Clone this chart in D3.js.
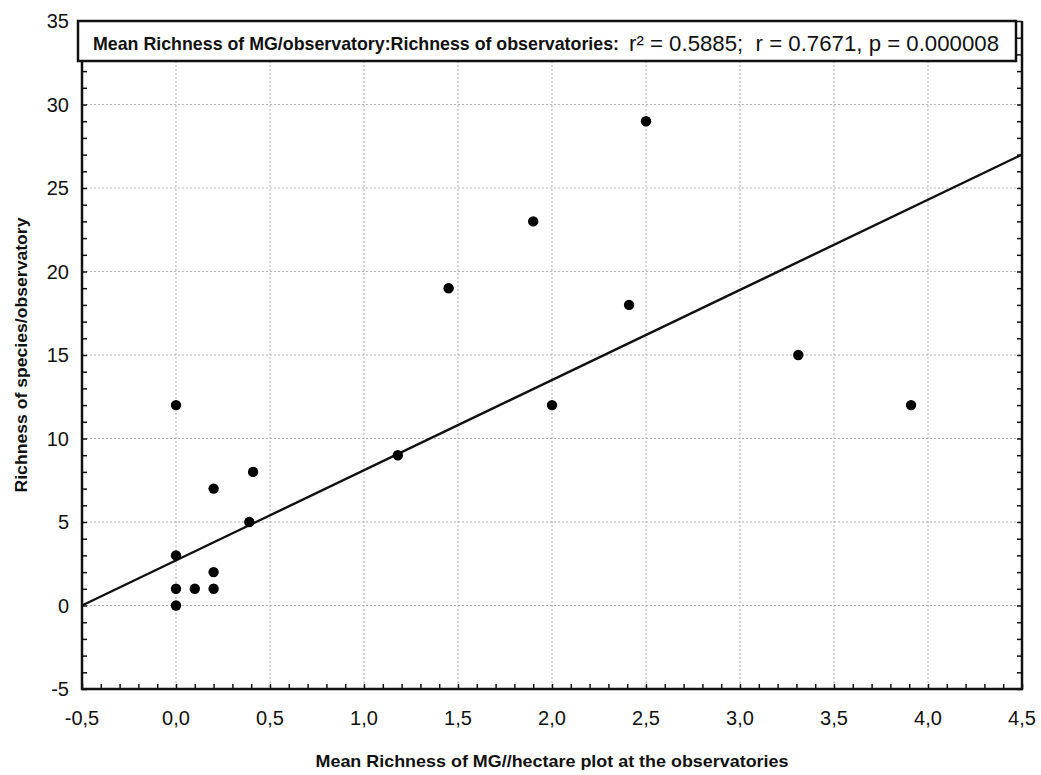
<!DOCTYPE html>
<html>
<head>
<meta charset="utf-8">
<script src="https://cdn.jsdelivr.net/npm/d3@7"></script>
<style>
  body { margin: 0; background: #fff; }
  .tick-label { font-family: "Liberation Sans", Arial, sans-serif; font-size: 20px; fill: #111; }
  .bold-label { font-family: "Liberation Sans Narrow", "Liberation Sans", Arial, sans-serif; font-weight: bold; fill: #111; }
  .grid line { stroke: #b0b0b0; stroke-width: 1; stroke-dasharray: 2,2; }
</style>
</head>
<body>
<div id="chart"></div>
<script>
// observatories: mean richness of MG per hectare plot vs species richness
var meanRichnessMG = [0, 0, 0, 0, 0.1, 0.2, 0.2, 0.2, 0.39, 0.41, 1.18, 1.45, 1.9, 2.0, 2.41, 2.5, 3.31, 3.91];
var speciesRichness = [12, 3, 1, 0, 1, 1, 2, 7, 5, 8, 9, 19, 23, 12, 18, 29, 15, 12];

// fitted line
var fitIntercept = 2.7;
var fitSlope = 5.4;

var xTicks = [-0.5, 0, 0.5, 1, 1.5, 2, 2.5, 3, 3.5, 4, 4.5];
var yTicks = [-5, 0, 5, 10, 15, 20, 25, 30, 35];

var titleBold = "Mean Richness of MG/observatory:Richness of observatories:";
var titleStats = "r\u00B2 = 0.5885;  r = 0.7671, p = 0.000008";
var xTitle = "Mean Richness of MG//hectare plot at the observatories";
var yTitle = "Richness of species/observatory";

var W = 1041, H = 775;
var margin = {top: 21, right: 19, bottom: 86, left: 82},
    width = W - margin.left - margin.right,
    height = H - margin.top - margin.bottom;

var x = d3.scaleLinear().domain([-0.5, 4.5]).range([0, width]);
var y = d3.scaleLinear().domain([-5, 35]).range([height, 0]);

var fmt = function(d) { return d3.format(".1f")(d).replace(".", ",").replace("\u2212", "-"); };

var svg = d3.select("#chart").append("svg")
    .attr("width", W)
    .attr("height", H);

var g = svg.append("g")
    .attr("transform", "translate(" + margin.left + "," + margin.top + ")");

// grid
var grid = g.append("g").attr("class", "grid");
grid.selectAll(".gx")
    .data(xTicks.slice(1, -1))
    .enter().append("line")
    .attr("x1", function(d) { return x(d); })
    .attr("x2", function(d) { return x(d); })
    .attr("y1", 0)
    .attr("y2", height);
grid.selectAll(".gy")
    .data(yTicks.slice(1, -1))
    .enter().append("line")
    .attr("x1", 0)
    .attr("x2", width)
    .attr("y1", function(d) { return y(d); })
    .attr("y2", function(d) { return y(d); });

// minor + major ticks pointing inward
var xMinor = d3.range(-5, 46).map(function(i) { return i / 10; });
var yMinor = d3.range(-5, 36);

function styleTicks(s) {
    s.select(".domain").remove();
    s.selectAll("line").attr("stroke", "#111").attr("stroke-width", 1.5);
}

g.append("g")
    .attr("transform", "translate(0," + height + ")")
    .call(d3.axisTop(x).tickValues(xMinor).tickSize(5).tickFormat(""))
    .call(styleTicks);

g.append("g")
    .call(d3.axisRight(y).tickValues(yMinor).tickSize(5).tickFormat(""))
    .call(styleTicks);

g.append("g")
    .attr("transform", "translate(" + width + ",0)")
    .call(d3.axisLeft(y).tickValues(yMinor).tickSize(5).tickFormat(""))
    .call(styleTicks);

// tick labels
g.selectAll(".xlab")
    .data(xTicks)
    .enter().append("text")
    .attr("class", "tick-label")
    .attr("x", function(d) { return x(d); })
    .attr("y", height + 36)
    .attr("text-anchor", "middle")
    .text(fmt);

g.selectAll(".ylab")
    .data(yTicks)
    .enter().append("text")
    .attr("class", "tick-label")
    .attr("x", -13)
    .attr("y", function(d) { return y(d); })
    .attr("dy", "0.36em")
    .attr("text-anchor", "end")
    .text(function(d) { return d; });

// frame
g.append("path")
    .attr("d", "M0,0V" + height + "H" + width + "V0")
    .attr("fill", "none")
    .attr("stroke", "#111")
    .attr("stroke-width", 2.5);

// regression line
g.append("line")
    .attr("x1", x(-0.5))
    .attr("y1", y(fitIntercept + fitSlope * -0.5))
    .attr("x2", x(4.5))
    .attr("y2", y(fitIntercept + fitSlope * 4.5))
    .attr("stroke", "#111")
    .attr("stroke-width", 2.4);

// points
var pts = meanRichnessMG.map(function(v, i) { return {mx: v, sr: speciesRichness[i]}; });
g.selectAll(".dot")
    .data(pts)
    .enter().append("circle")
    .attr("class", "dot")
    .attr("r", 5.2)
    .attr("cx", function(d) { return x(d.mx); })
    .attr("cy", function(d) { return y(d.sr); })
    .style("fill", "#000");

// title box
svg.append("rect")
    .attr("x", 78)
    .attr("y", 21)
    .attr("width", 938)
    .attr("height", 40)
    .attr("fill", "#fff")
    .attr("stroke", "#111")
    .attr("stroke-width", 2.5);

svg.append("text")
    .attr("class", "bold-label")
    .attr("x", 93)
    .attr("y", 50)
    .attr("font-size", 19)
    .attr("textLength", 526)
    .attr("lengthAdjust", "spacingAndGlyphs")
    .text(titleBold);

svg.append("text")
    .attr("class", "tick-label")
    .attr("x", 629)
    .attr("y", 51)
    .style("font-size", "22px")
    .style("white-space", "pre")
    .attr("textLength", 370)
    .attr("lengthAdjust", "spacingAndGlyphs")
    .text(titleStats);

// axis titles
svg.append("text")
    .attr("class", "bold-label")
    .attr("x", margin.left + width / 2)
    .attr("y", 767)
    .attr("text-anchor", "middle")
    .attr("font-size", 17)
    .attr("textLength", 473)
    .attr("lengthAdjust", "spacingAndGlyphs")
    .text(xTitle);

svg.append("text")
    .attr("class", "bold-label")
    .attr("transform", "translate(27," + (margin.top + height / 2) + ") rotate(-90)")
    .attr("text-anchor", "middle")
    .attr("font-size", 17)
    .attr("textLength", 275)
    .attr("lengthAdjust", "spacingAndGlyphs")
    .text(yTitle);
</script>
</body>
</html>
